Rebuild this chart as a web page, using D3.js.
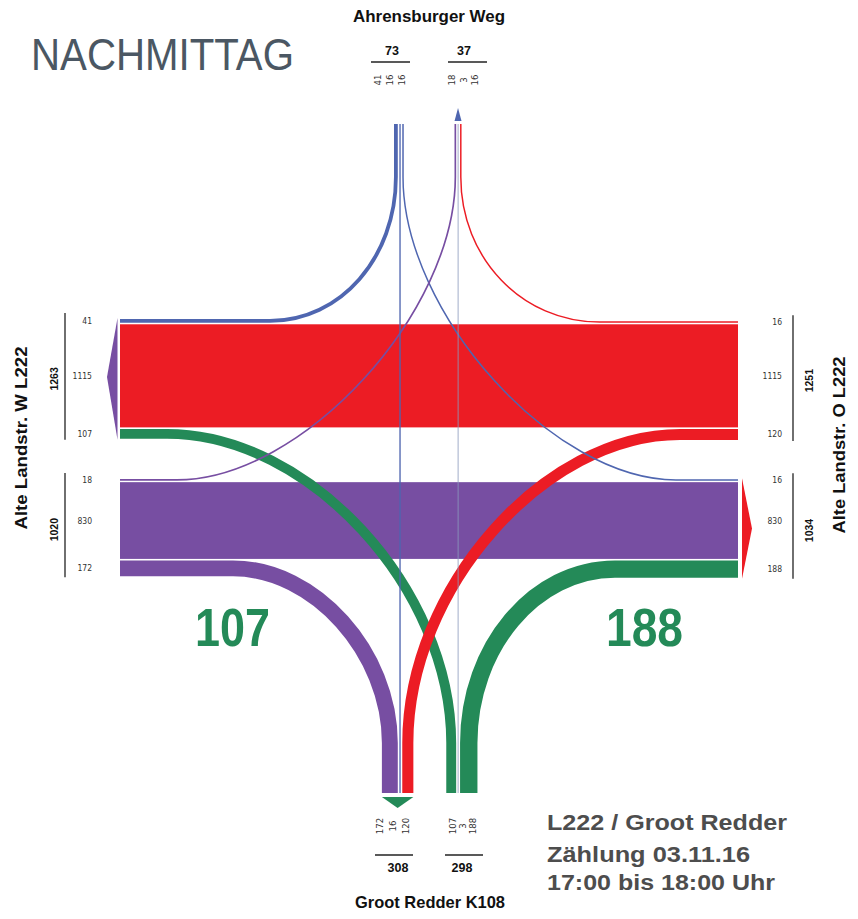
<!DOCTYPE html>
<html><head><meta charset="utf-8">
<script src="https://cdn.jsdelivr.net/npm/d3@7"></script>
<style>body{margin:0;background:#fff}</style>
</head><body>
<svg id="c" width="858" height="919"></svg>
<script>
// ---------- data ----------
const arms      = ["W", "O", "N", "S"];
const armNames  = ["Alte Landstr. W L222", "Alte Landstr. O L222", "Ahrensburger Weg", "Groot Redder K108"];
const flowFrom  = ["W", "W", "W", "O", "O", "O", "N", "N", "N", "S", "S", "S"];
const flowTo    = ["N", "O", "S", "N", "W", "S", "W", "S", "O", "W", "N", "O"];
const flowValue = [18, 830, 172, 16, 1115, 120, 41, 16, 16, 107, 3, 188];
const titleText = "NACHMITTAG";
const infoLines = ["L222 / Groot Redder", "Zählung 03.11.16", "17:00 bis 18:00 Uhr"];

// ---------- setup ----------
const svg = d3.select("#c");
const FONT = "'Liberation Sans', Arial, sans-serif";
const NARROW = "'Liberation Sans Narrow', 'DejaVu Sans Condensed', 'Liberation Sans', sans-serif";
const color = d3.scaleOrdinal().domain(arms).range(["#774ea2", "#ec1c24", "#4f66b0", "#248a58"]);
const flows = flowFrom.map((f, i) => ({from: f, to: flowTo[i], value: flowValue[i], key: f + flowTo[i]}));
const F = (a, b) => flows.find(d => d.from === a && d.to === b);
const wScale = d3.scaleLinear().domain([0, 1115]).range([0, 103.1]);
const W = fl => Math.max(wScale(fl.value), 0.9);
const G = 1.5;

const xL = 120, xR = 738;
const yNtop = 124, yNc = 177, ySbot = 793, ySc = 743;

// horizontal stacks (west end / east end)
const yW = {}, yE = {};
function stackY(list, y0, target) {
  let y = y0;
  list.forEach(([a, b]) => { const fl = F(a, b); target[a + b] = [y, y + W(fl)]; y += W(fl) + G; });
}
stackY([["N","W"],["O","W"],["S","W"]], 319, yW);
yE.OW = yW.OW;
yE.ON = [yW.OW[0] - G - W(F("O","N")), yW.OW[0] - G];
yE.OS = [yW.OW[1] + G, yW.OW[1] + G + W(F("O","S"))];
stackY([["W","N"],["W","O"],["W","S"]], 479, yW);
yE.WO = yW.WO;
yE.NO = [yW.WO[0] - G - W(F("N","O")), yW.WO[0] - G];
yE.SO = [yW.WO[1] + G, yW.WO[1] + G + W(F("S","O"))];

// vertical stacks (north end / south end)
const xN = {}, xS = {};
function stackX(list, x0, target) {
  let x = x0;
  list.forEach(([a, b]) => { const fl = F(a, b); target[a + b] = [x, x + W(fl)]; x += W(fl) + G; });
}
stackX([["N","W"],["N","S"],["N","O"]], 394, xN);
xS.NS = xN.NS;
xS.WS = [xN.NS[0] - G - W(F("W","S")), xN.NS[0] - G];
xS.OS = [xN.NS[1] + G, xN.NS[1] + G + W(F("O","S"))];
stackX([["W","N"],["S","N"],["O","N"]], 454.5, xN);
xS.SN = xN.SN;
xS.SW = [xN.SN[0] - G - W(F("S","W")), xN.SN[0] - G];
xS.SO = [xN.SN[1] + G, xN.SN[1] + G + W(F("S","O"))];

const mid = r => (r[0] + r[1]) / 2;
const turnX = {NW: 270, ON: 600, NO: 676, WN: 177, WS: 233, SW: 167, OS: 680, SO: 615};
const bendOf = {NW: 0.56, ON: 0.56, NO: 0.45, WN: 0.45, WS: 0.52, SW: 0.5, OS: 0.5, SO: 0.55};

function turnPath(fl) {
  const H = (fl.from === "W" || fl.from === "O") ? fl.from : fl.to;
  const V = (fl.from === "N" || fl.from === "S") ? fl.from : fl.to;
  const yc = H === "W" ? mid(yW[fl.key]) : mid(yE[fl.key]);
  const xc = V === "N" ? mid(xN[fl.key]) : mid(xS[fl.key]);
  const xEdge = H === "W" ? xL : xR;
  const yT = V === "N" ? yNc : ySc;
  const yEnd = V === "N" ? yNtop : ySbot;
  const tx = turnX[fl.key], bend = bendOf[fl.key];
  const p = d3.path();
  p.moveTo(xEdge, yc);
  p.lineTo(tx, yc);
  p.bezierCurveTo(tx + bend * (xc - tx), yc, xc, yT + bend * (yc - yT), xc, yT);
  p.lineTo(xc, yEnd);
  return p.toString();
}

// ---------- through bands ----------
const gBands = svg.append("g");
["OW", "WO"].forEach(k => {
  const fl = flows.find(d => d.key === k);
  const r = yW[k];
  gBands.append("rect").attr("x", xL).attr("y", r[0]).attr("width", xR - xL).attr("height", r[1] - r[0])
    .attr("fill", color(fl.from));
});

// ---------- turning ribbons ----------
const order = ["WS", "SO", "NW", "ON", "SW", "OS", "NO", "WN"];
svg.append("g").selectAll("path").data(order.map(k => flows.find(d => d.key === k))).join("path")
  .attr("d", turnPath).attr("fill", "none").attr("stroke", d => color(d.from))
  .attr("stroke-width", d => W(d)).attr("stroke-linecap", "butt");

// ---------- straight N-S lines ----------
["NS", "SN"].forEach(k => {
  const fl = flows.find(d => d.key === k);
  svg.append("line").attr("x1", mid(xN[k])).attr("x2", mid(xN[k])).attr("y1", yNtop).attr("y2", ySbot)
    .attr("stroke", fl.value < 10 ? "#8c9cbd" : color(fl.from)).attr("stroke-width", W(fl))
    .attr("opacity", 0.9);
});

// ---------- arrows ----------
const topW = yW.NW[0], botW = yW.SW[1];
svg.append("path").attr("fill", color("W"))
  .attr("d", `M${xL - 2.5},${topW - 1} L${xL - 13},${(topW + botW) / 2 - 2} L${xL - 2.5},${botW + 1} Z`);
const topE = yE.NO[0], botE = yE.SO[1];
svg.append("path").attr("fill", color("O"))
  .attr("d", `M${xR + 4},${topE - 1} L${xR + 14},${(topE + botE) / 2} L${xR + 4},${botE + 1} Z`);
const cN = (xN.WN[0] + xN.ON[1]) / 2;
svg.append("path").attr("fill", color("N"))
  .attr("d", `M${cN - 3.5},${yNtop - 3} L${cN},${yNtop - 16} L${cN + 3.5},${yNtop - 3} Z`);
const cS = (xS.WS[0] + xS.OS[1]) / 2;
svg.append("path").attr("fill", color("S"))
  .attr("d", `M${xS.WS[0]},${ySbot + 4} L${xS.OS[1]},${ySbot + 4} L${cS},${ySbot + 15} Z`);

// ---------- side value labels ----------
const sideLab = svg.append("g").attr("font-family", NARROW).attr("font-size", 8.5).attr("fill", "#333");
[["NW","OW","SW"], ["WN","WO","WS"]].forEach(group => group.forEach(k => {
  const fl = flows.find(d => d.key === k);
  sideLab.append("text").attr("x", 92).attr("y", mid(yW[k])).attr("dy", "0.35em")
    .attr("text-anchor", "end").text(fl.value);
}));
[["ON","OW","OS"], ["NO","WO","SO"]].forEach(group => group.forEach(k => {
  const fl = flows.find(d => d.key === k);
  sideLab.append("text").attr("x", 782).attr("y", mid(yE[k])).attr("dy", "0.35em")
    .attr("text-anchor", "end").text(fl.value);
}));

// totals
const sumTo = a => d3.sum(flows.filter(d => d.to === a), d => d.value);
const sumFrom = a => d3.sum(flows.filter(d => d.from === a), d => d.value);

const bold = svg.append("g").attr("font-family", FONT).attr("font-weight", "bold").attr("fill", "#111");
function vText(g, x, y, txt, size, len) {
  const t = g.append("text").attr("transform", `translate(${x},${y}) rotate(-90)`)
    .attr("text-anchor", "middle").attr("font-size", size).text(txt);
  if (len) t.attr("textLength", len).attr("lengthAdjust", "spacingAndGlyphs");
  return t;
}
const westTop = [yW.NW[0], yW.SW[1]], westBot = [yW.WN[0], yW.WS[1]];
const eastTop = [yE.ON[0], yE.OS[1]], eastBot = [yE.NO[0], yE.SO[1]];
[[65, westTop], [65, westBot], [793, eastTop], [793, eastBot]].forEach(([x, r]) => {
  svg.append("line").attr("x1", x).attr("x2", x).attr("y1", r[0] - 6).attr("y2", r[1] + 1)
    .attr("stroke", "#222").attr("stroke-width", 1.3);
});
vText(bold, 58, mid(westTop), sumTo("W"), 10.5);
vText(bold, 58, mid(westBot) + 2, sumFrom("W"), 10.5);
vText(bold, 813, mid(eastTop), sumFrom("O"), 10.5);
vText(bold, 813, mid(eastBot) + 2, sumTo("O"), 10.5);

// arm names
vText(bold, 27, 438, armNames[0], 17, 183);
vText(bold, 845, 445, armNames[1], 17, 177);
bold.append("text").attr("x", 429).attr("y", 22).attr("text-anchor", "middle").attr("font-size", 17)
  .attr("textLength", 152).attr("lengthAdjust", "spacingAndGlyphs").text(armNames[2]);
bold.append("text").attr("x", 430).attr("y", 908).attr("text-anchor", "middle").attr("font-size", 17)
  .attr("textLength", 150).attr("lengthAdjust", "spacingAndGlyphs").text(armNames[3]);

// north / south lane labels
const laneLab = svg.append("g").attr("font-family", NARROW).attr("font-size", 9.5).attr("fill", "#333");
function laneGroup(keys, cx, sp, cy) {
  keys.forEach((k, i) => {
    const fl = flows.find(d => d.key === k);
    laneLab.append("text").attr("transform", `translate(${cx + (i - 1) * sp},${cy}) rotate(-90)`)
      .attr("text-anchor", "middle").attr("dy", "0.35em").text(fl.value);
  });
}
laneGroup(["NW", "NS", "NO"], 390, 12, 80);
laneGroup(["WN", "SN", "ON"], 463.5, 11.5, 80);
laneGroup(["WS", "NS", "OS"], 393, 13, 826);
laneGroup(["SW", "SN", "SO"], 463, 10, 826);

// top/bottom totals with rules
[[371, 410, 62], [448, 487, 62], [375, 413, 855], [445, 483, 855]].forEach(([a, b, y]) => {
  svg.append("line").attr("x1", a).attr("x2", b).attr("y1", y).attr("y2", y).attr("stroke", "#222").attr("stroke-width", 1.6);
});
[[392, 55, sumFrom("N")], [464, 55, sumTo("N")], [398, 872, sumTo("S")], [462, 872, sumFrom("S")]].forEach(([x, y, v]) => {
  bold.append("text").attr("x", x).attr("y", y).attr("text-anchor", "middle").attr("font-size", 12.5).text(v);
});

// big green numbers (S->W, S->O)
const big = svg.append("g").attr("font-family", FONT).attr("font-weight", "bold").attr("fill", color("S"));
big.append("text").attr("x", 195).attr("y", 646).attr("font-size", 53)
  .attr("textLength", 75).attr("lengthAdjust", "spacingAndGlyphs").text(F("S", "W").value);
big.append("text").attr("x", 606).attr("y", 646).attr("font-size", 53)
  .attr("textLength", 77).attr("lengthAdjust", "spacingAndGlyphs").text(F("S", "O").value);

// title
svg.append("text").attr("x", 31).attr("y", 70).attr("font-family", FONT).attr("font-size", 44)
  .attr("fill", "#4b5763").attr("textLength", 263).attr("lengthAdjust", "spacingAndGlyphs").text(titleText);

// info block
const infoY = [830, 862, 890], infoLen = [240, 203, 228];
svg.append("g").attr("font-family", FONT).attr("font-weight", "bold").attr("font-size", 21.5).attr("fill", "#4d4d4d")
  .selectAll("text").data(infoLines).join("text")
  .attr("x", 547).attr("y", (d, i) => infoY[i]).attr("textLength", (d, i) => infoLen[i])
  .attr("lengthAdjust", "spacingAndGlyphs").text(d => d);
</script>
</body></html>
